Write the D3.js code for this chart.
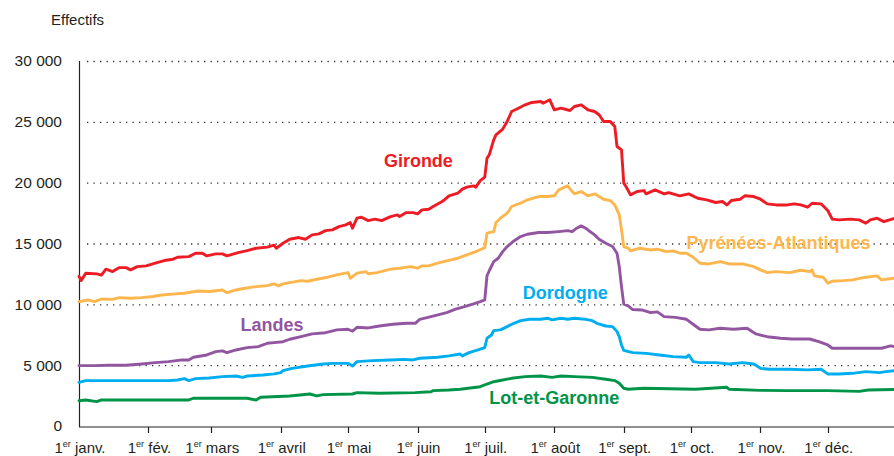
<!DOCTYPE html>
<html>
<head>
<meta charset="utf-8">
<script src="https://cdn.jsdelivr.net/npm/d3@7"></script>
<style>
  body { margin: 0; background: #fff; }
  svg { display: block; font-family: "Liberation Sans", Arial, sans-serif; }
</style>
</head>
<body>
<div id="chart"></div>
<script>
// [jour de l'année (0 = 1er janv.), effectif]
const gironde = [
  [0,12300],[1,11950],[3,12560],[8,12500],[10,12400],[12,12890],[15,12690],[18,13020],[21,13020],[23,12830],
  [26,13100],[30,13160],[34,13380],[38,13600],[42,13710],[44,13870],[49,13920],[52,14200],[55,14200],[57,13980],
  [61,14150],[64,14150],[66,13980],[71,14250],[75,14420],[79,14610],[84,14700],[87,14860],[88,14610],[91,15020],
  [94,15350],[98,15490],[101,15350],[104,15710],[107,15790],[110,16060],[113,16120],[116,16390],[119,16530],[121,16720],
  [122,16260],[124,17080],[126,17160],[129,16880],[132,17000],[135,16880],[139,17210],[142,17350],[143,17210],[146,17540],
  [149,17540],[151,17430],[153,17760],[156,17820],[158,18040],[162,18450],[163,18590],[165,18920],[169,19140],[171,19470],
  [173,19630],[176,19740],[177,19630],[179,20170],[181,20450],[182,22000],[183,22290],[185,23520],[186,23930],[189,24400],
  [191,25030],[193,25850],[196,26120],[199,26400],[202,26590],[206,26670],[207,26530],[210,26810],[212,25990],[215,26120],
  [219,25930],[221,26260],[224,26400],[227,25990],[230,25850],[232,25580],[234,25030],[237,25030],[239,24610],[240,22970],
  [242,22700],[243,19960],[244,19680],[246,19000],[249,19270],[252,19350],[253,19080],[257,19410],[261,19080],[263,19190],
  [268,18920],[272,19080],[276,18720],[280,18590],[284,18370],[287,18450],[289,18170],[291,18530],[295,18640],[297,18920],
  [301,18860],[304,18640],[307,18260],[311,18170],[316,18170],[319,18260],[322,18170],[325,17980],[327,18310],[331,18260],
  [334,17710],[336,17000],[339,16940],[344,17000],[348,16940],[351,16670],[353,16940],[356,17080],[359,16800],[364,17080]
];
const pyrenees = [
  [0,10220],[4,10360],[7,10220],[10,10440],[15,10410],[18,10550],[23,10500],[28,10550],[33,10640],[37,10770],
  [43,10860],[47,10910],[53,11100],[58,11060],[64,11180],[66,10960],[70,11180],[74,11320],[79,11460],[84,11540],
  [87,11680],[89,11520],[91,11680],[94,11790],[99,11950],[102,11900],[106,12060],[111,12230],[115,12420],[120,12610],
  [121,12140],[124,12560],[128,12690],[129,12510],[133,12610],[139,12890],[143,12970],[148,13100],[151,12970],[153,13160],
  [156,13160],[160,13380],[164,13570],[169,13790],[173,14060],[177,14330],[181,14650],[182,15850],[185,15980],[186,16720],
  [188,17080],[191,17490],[193,18040],[197,18310],[200,18590],[205,18860],[209,18860],[212,18920],[214,19410],[218,19740],
  [220,19270],[221,19080],[224,19270],[227,18920],[230,19080],[234,18640],[237,18530],[239,18170],[241,17350],[242,16120],
  [243,14750],[245,14610],[246,14400],[250,14610],[255,14470],[258,14530],[262,14330],[265,14390],[268,14200],[271,14200],
  [274,13870],[277,13380],[281,13320],[286,13510],[290,13320],[296,13320],[301,13100],[304,12830],[307,12610],[311,12690],
  [317,12610],[322,12800],[326,12690],[327,12830],[328,12340],[332,12230],[334,11740],[336,11900],[341,11950],[345,12010],
  [351,12230],[356,12340],[358,12010],[364,12150]
];
const landes = [
  [0,4960],[7,4960],[13,4990],[21,4990],[28,5100],[34,5210],[40,5290],[46,5430],[49,5430],[51,5650],
  [57,5840],[61,6110],[64,6170],[66,6030],[70,6250],[75,6440],[80,6520],[84,6800],[87,6850],[91,6930],
  [94,7130],[99,7340],[104,7570],[110,7670],[115,7900],[120,7950],[122,7790],[124,8120],[129,8060],[134,8220],
  [140,8360],[146,8440],[150,8440],[152,8770],[157,8990],[161,9180],[164,9320],[168,9600],[172,9810],[176,10030],
  [179,10220],[181,10360],[182,12350],[183,12760],[185,13510],[187,13790],[189,14330],[191,14750],[194,15210],[197,15570],
  [200,15760],[205,15900],[209,15900],[214,15980],[218,16060],[220,15980],[222,16260],[224,16450],[226,16260],[228,15980],
  [230,15710],[232,15350],[235,15020],[238,14750],[240,14200],[241,13100],[242,11460],[243,10020],[245,9870],[247,9570],
  [251,9540],[255,9320],[258,9380],[261,8990],[266,8930],[271,8770],[275,8220],[277,7950],[281,7900],[286,8030],
  [292,7950],[298,8030],[302,7570],[307,7340],[313,7210],[318,7150],[326,7150],[330,6930],[334,6660],[336,6390],
  [342,6390],[350,6390],[358,6390],[362,6580],[364,6520]
];
const dordogne = [
  [0,3590],[3,3730],[28,3730],[40,3730],[44,3780],[47,3890],[49,3730],[52,3890],[58,3950],[64,4060],
  [70,4110],[73,4000],[75,4110],[82,4190],[87,4280],[90,4390],[91,4550],[95,4740],[102,4930],[109,5100],
  [113,5150],[120,5150],[122,4930],[124,5290],[131,5370],[139,5430],[145,5480],[149,5430],[152,5570],[160,5650],
  [165,5760],[170,5920],[171,5760],[174,6030],[178,6250],[181,6450],[182,7210],[184,7480],[185,7840],[188,7900],
  [191,8170],[194,8440],[197,8660],[201,8770],[206,8770],[209,8860],[211,8720],[215,8860],[218,8770],[221,8860],
  [226,8770],[229,8660],[231,8440],[235,8220],[238,8170],[240,7760],[241,7350],[242,6660],[243,6220],[247,6030],
  [253,5970],[259,5840],[265,5700],[271,5650],[272,5840],[274,5290],[277,5210],[284,5210],[290,5100],[296,5210],
  [301,5100],[304,4740],[308,4660],[317,4660],[325,4610],[331,4660],[334,4280],[339,4280],[345,4330],[351,4470],
  [357,4390],[360,4470],[364,4550]
];
const lotEtGaronne = [
  [0,2080],[3,2140],[8,2000],[10,2140],[49,2140],[51,2280],[75,2280],[79,2140],[81,2360],[94,2470],
  [103,2630],[106,2470],[109,2580],[122,2630],[124,2740],[134,2690],[150,2740],[157,2820],[158,2910],[165,2960],
  [170,3020],[179,3230],[182,3450],[185,3640],[189,3780],[193,3920],[199,4060],[206,4110],[211,4000],[215,4110],
  [221,4060],[229,4000],[235,3840],[239,3730],[241,3510],[243,3100],[245,3020],[252,3100],[275,3020],[289,3180],
  [290,3020],[304,2930],[316,2910],[334,2910],[348,2850],[352,2960],[364,3000]
];

const series = [
  { name: "Gironde", values: gironde, color: "#ed1c24" },
  { name: "Pyrénées-Atlantiques", values: pyrenees, color: "#fdb64e" },
  { name: "Landes", values: landes, color: "#9256a0" },
  { name: "Dordogne", values: dordogne, color: "#00aeef" },
  { name: "Lot-et-Garonne", values: lotEtGaronne, color: "#009448" },
];

// ancrage des étiquettes en unités du graphique (jour, effectif)
const labelAnchors = [
  { name: "Gironde", day: 136, value: 21300 },
  { name: "Pyrénées-Atlantiques", day: 271, value: 14560 },
  { name: "Dordogne", day: 198, value: 10440 },
  { name: "Landes", day: 72, value: 7810 },
  { name: "Lot-et-Garonne", day: 183, value: 1810 },
];

const monthLabels = ["janv.", "fév.", "mars", "avril", "mai", "juin",
  "juil.", "août", "sept.", "oct.", "nov.", "déc."];
const yTicks = [0, 5000, 10000, 15000, 20000, 25000, 30000];

const width = 894, height = 456;
const year0 = new Date(2013, 0, 1);
const toDate = (d) => d3.timeDay.offset(year0, d);

const x = d3.scaleTime()
  .domain([year0, new Date(2013, 11, 31)])
  .range([79, 895]);
const y = d3.scaleLinear().domain([0, 30000]).range([426, 61]);

const fr = d3.formatLocale({ decimal: ",", thousands: " ", grouping: [3], currency: ["", " €"] });
const fmt = fr.format(",d");

const svg = d3.select("#chart").append("svg")
  .attr("width", width)
  .attr("height", height);

// quadrillage pointillé
svg.append("g")
  .selectAll("line")
  .data(yTicks.filter((t) => t > 0))
  .join("line")
  .attr("x1", 87)
  .attr("x2", width)
  .attr("y1", (d) => y(d) + 0.5)
  .attr("y2", (d) => y(d) + 0.5)
  .attr("stroke", "#333")
  .attr("stroke-width", 1.3)
  .attr("stroke-dasharray", "1.3 5.2");

// axe vertical
svg.append("line")
  .attr("x1", 79.5).attr("x2", 79.5)
  .attr("y1", y(30000)).attr("y2", y(0) + 1)
  .attr("stroke", "#222")
  .attr("stroke-width", 1.2);

svg.append("g")
  .selectAll("text")
  .data(yTicks)
  .join("text")
  .attr("x", 62)
  .attr("y", (d) => y(d))
  .attr("dy", "0.35em")
  .attr("text-anchor", "end")
  .attr("font-size", 15.5)
  .attr("fill", "#231f20")
  .text((d) => fmt(d));

svg.append("text")
  .attr("x", 51)
  .attr("y", 25)
  .attr("font-size", 15)
  .attr("fill", "#231f20")
  .text("Effectifs");

// axe horizontal
const months = d3.timeMonth.range(year0, new Date(2014, 0, 1));
const xAxis = svg.append("g");
xAxis.append("line")
  .attr("x1", 79).attr("x2", width)
  .attr("y1", y(0) + 1).attr("y2", y(0) + 1)
  .attr("stroke", "#222")
  .attr("stroke-width", 1.2);

xAxis.selectAll(".tick")
  .data(months.slice(1))
  .join("line")
  .attr("class", "tick")
  .attr("x1", (d) => Math.round(x(d)) + 0.5)
  .attr("x2", (d) => Math.round(x(d)) + 0.5)
  .attr("y1", y(0) + 1)
  .attr("y2", y(0) + 7)
  .attr("stroke", "#222")
  .attr("stroke-width", 1.2);

const mLabel = xAxis.selectAll(".mlabel")
  .data(months)
  .join("text")
  .attr("class", "mlabel")
  .attr("x", (d) => x(d) + 1)
  .attr("y", 453)
  .attr("text-anchor", "middle")
  .attr("font-size", 15)
  .attr("fill", "#231f20");
mLabel.append("tspan").text("1");
mLabel.append("tspan").attr("font-size", 9).attr("dy", -6).text("er");
mLabel.append("tspan").attr("dy", 6).text((d, i) => "\u00a0" + monthLabels[i]);

// courbes
const line = d3.line()
  .x((d) => x(toDate(d[0])))
  .y((d) => y(d[1]));

svg.append("g")
  .selectAll("path")
  .data(series)
  .join("path")
  .attr("fill", "none")
  .attr("stroke", (d) => d.color)
  .attr("stroke-width", 2.9)
  .attr("stroke-linejoin", "round")
  .attr("stroke-linecap", "round")
  .attr("d", (d) => line(d.values));

// étiquettes
const colorOf = new Map(series.map((s) => [s.name, s.color]));
svg.append("g")
  .selectAll("text")
  .data(labelAnchors)
  .join("text")
  .attr("x", (d) => x(toDate(d.day)))
  .attr("y", (d) => y(d.value))
  .attr("font-size", 18)
  .attr("font-weight", "bold")
  .attr("fill", (d) => colorOf.get(d.name))
  .text((d) => d.name);
</script>
</body>
</html>
